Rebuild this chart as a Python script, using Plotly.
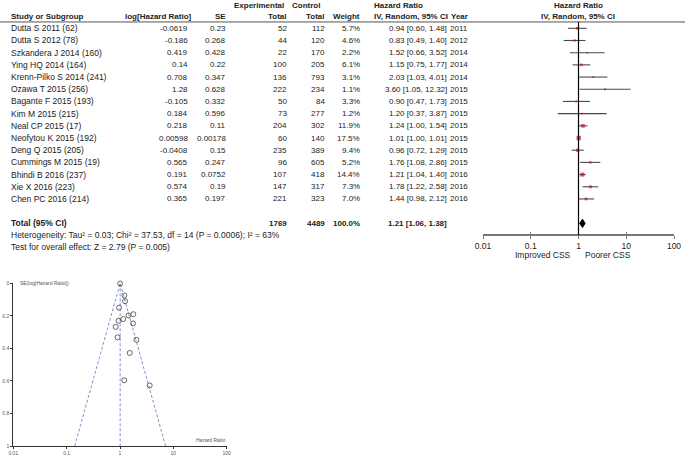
# Forest plot + funnel plot (CSS hazard ratios)

import math
import plotly.graph_objects as go

# ---- data ----
studies = ['Dutta S 2011 (62)', 'Dutta S 2012 (78)', 'Szkandera J 2014 (160)', 'Ying HQ 2014 (164)',
           'Krenn-Pilko S 2014 (241)', 'Ozawa T 2015 (256)', 'Bagante F 2015 (193)', 'Kim M 2015 (215)',
           'Neal CP 2015 (17)', 'Neofytou K 2015 (192)', 'Deng Q 2015 (205)', 'Cummings M 2015 (19)',
           'Bhindi B 2016 (237)', 'Xie X 2016 (223)', 'Chen PC 2016 (214)']
log_hr = ['-0.0619', '-0.186', '0.419', '0.14', '0.708', '1.28', '-0.105', '0.184',
          '0.218', '0.00598', '-0.0408', '0.565', '0.191', '0.574', '0.365']
se = ['0.23', '0.268', '0.428', '0.22', '0.347', '0.628', '0.332', '0.596',
      '0.11', '0.00178', '0.15', '0.247', '0.0752', '0.19', '0.197']
exp_total = [52, 44, 22, 100, 136, 222, 50, 73, 204, 60, 235, 96, 107, 147, 221]
ctrl_total = [112, 120, 170, 205, 793, 234, 84, 277, 302, 140, 389, 605, 418, 317, 323]
weight = [5.7, 4.6, 2.2, 6.1, 3.1, 1.1, 3.3, 1.2, 11.9, 17.5, 9.4, 5.2, 14.4, 7.3, 7.0]
hr = [0.94, 0.83, 1.52, 1.15, 2.03, 3.60, 0.90, 1.20, 1.24, 1.01, 0.96, 1.76, 1.21, 1.78, 1.44]
hr_lo = [0.60, 0.49, 0.66, 0.75, 1.03, 1.05, 0.47, 0.37, 1.00, 1.00, 0.72, 1.08, 1.04, 1.22, 0.98]
hr_hi = [1.48, 1.40, 3.52, 1.77, 4.01, 12.32, 1.73, 3.87, 1.54, 1.01, 1.29, 2.86, 1.40, 2.58, 2.12]
years = [2011, 2012, 2014, 2014, 2014, 2015, 2015, 2015, 2015, 2015, 2015, 2015, 2016, 2016, 2016]

total_exp, total_ctrl = 1769, 4489
pooled_hr, pooled_lo, pooled_hi = 1.21, 1.06, 1.38
heterogeneity = 'Heterogeneity: Tau² = 0.03; Chi² = 37.53, df = 14 (P = 0.0006); I² = 63%'
overall = 'Test for overall effect: Z = 2.79 (P = 0.005)'

W, H = 685, 457
FONT = 'Liberation Sans, Arial, sans-serif'
TXT = '#222222'
RED = '#c8102e'
FS = 8       # numeric columns
LS = 8.5     # labels / footnotes
HS = 8       # header font size

# row geometry (in pixels) -> y axis in row units
ROW0, PITCH = 28.3, 12.19
total_row = len(studies) + 1


def px(x):
    return x / W


annotations = []


def txt(x, y, s, anchor='left', bold=False, size=FS, yref='y'):
    annotations.append(dict(
        x=px(x), y=y, xref='paper', yref=yref, text=f'<b>{s}</b>' if bold else s,
        xanchor=anchor, yanchor='middle', showarrow=False,
        font=dict(family=FONT, size=size, color=TXT)))


rows = list(range(len(studies)))

# headers (paper coordinates from pixel)
h1 = 1 - 5.5 / H
h2 = 1 - 16.5 / H
txt(286, h1, 'Experimental', 'right', True, HS, 'paper')
txt(290, h1, 'Control', 'left', True, HS, 'paper')
txt(398, h1, 'Hazard Ratio', 'center', True, HS, 'paper')
txt(578, h1, 'Hazard Ratio', 'center', True, HS, 'paper')
txt(9, h2, 'Study or Subgroup', 'left', True, HS, 'paper')
txt(194, h2, 'log[Hazard Ratio]', 'right', True, HS, 'paper')
txt(228, h2, 'SE', 'right', True, HS, 'paper')
txt(289, h2, 'Total', 'right', True, HS, 'paper')
txt(327, h2, 'Total', 'right', True, HS, 'paper')
txt(362, h2, 'Weight', 'right', True, HS, 'paper')
txt(450, h2, 'IV, Random, 95% CI', 'right', True, HS, 'paper')
txt(470, h2, 'Year', 'right', True, HS, 'paper')
txt(578, h2, 'IV, Random, 95% CI', 'center', True, HS, 'paper')

for i in rows:
    txt(9, i, studies[i], size=LS)
    txt(190, i, log_hr[i], 'right')
    txt(228, i, se[i], 'right')
    txt(289, i, str(exp_total[i]), 'right')
    txt(327, i, str(ctrl_total[i]), 'right')
    txt(362, i, f'{weight[i]:.1f}%', 'right')
    txt(449, i, f'{hr[i]:.2f} [{hr_lo[i]:.2f}, {hr_hi[i]:.2f}]', 'right')
    txt(470, i, str(years[i]), 'right')

txt(9, total_row, 'Total (95% CI)', bold=True, size=LS)
txt(289, total_row, str(total_exp), 'right', True)
txt(327, total_row, str(total_ctrl), 'right', True)
txt(362, total_row, '100.0%', 'right', True)
txt(449, total_row, f'{pooled_hr:.2f} [{pooled_lo:.2f}, {pooled_hi:.2f}]', 'right', True)
txt(9, total_row + 0.98, heterogeneity, size=LS)
txt(9, total_row + 1.96, overall, size=LS)
txt(573, total_row + 2.6, 'Improved CSS', 'right', size=LS)
txt(583, total_row + 2.6, 'Poorer CSS', 'left', size=LS)

fig = go.Figure()

# CI whiskers
ci_x, ci_y = [], []
for i in rows:
    ci_x += [hr_lo[i], hr_hi[i], None]
    ci_y += [i, i, None]
fig.add_trace(go.Scatter(x=ci_x, y=ci_y, mode='lines', line=dict(color='#4a4a4a', width=1.1),
                         hoverinfo='skip', showlegend=False, xaxis='x', yaxis='y'))
# weight squares
fig.add_trace(go.Scatter(x=hr, y=rows, mode='markers', hoverinfo='skip', showlegend=False,
                         marker=dict(symbol='square', color=RED,
                                     size=[max(1.8, math.sqrt(w) * 1.05) for w in weight],
                                     line=dict(width=0)),
                         xaxis='x', yaxis='y'))
# pooled diamond
dh = 0.34
fig.add_trace(go.Scatter(x=[pooled_lo, pooled_hr, pooled_hi, pooled_hr, pooled_lo],
                         y=[total_row, total_row - dh, total_row, total_row + dh, total_row],
                         mode='lines', fill='toself', fillcolor='black', line=dict(color='black', width=1),
                         hoverinfo='skip', showlegend=False, xaxis='x', yaxis='y'))

# funnel plot
se_num = [float(s) for s in se]
lhr = [float(v) for v in log_hr]
wts = [1 / s ** 2 for s in se_num]
fixed = math.exp(sum(w * l for w, l in zip(wts, lhr)) / sum(wts))
FUNNEL_LINE = dict(color='#7584c8', width=0.9, dash='3px,2px')
fig.add_trace(go.Scatter(
    x=[fixed * math.exp(-1.96), fixed, fixed * math.exp(1.96)], y=[1, 0, 1], mode='lines',
    line=FUNNEL_LINE, hoverinfo='skip', showlegend=False, xaxis='x2', yaxis='y2'))
fig.add_trace(go.Scatter(
    x=[fixed, fixed], y=[0, 1], mode='lines',
    line=FUNNEL_LINE, hoverinfo='skip', showlegend=False, xaxis='x2', yaxis='y2'))
fig.add_trace(go.Scatter(
    x=[math.exp(v) for v in lhr], y=se_num, mode='markers', hoverinfo='skip', showlegend=False,
    marker=dict(symbol='circle-open', size=5, color='#444444', line=dict(width=0.8)),
    xaxis='x2', yaxis='y2', cliponaxis=False))

annotations.append(dict(x=0.02, y=1, xref='x2 domain', yref='y2 domain', text='SE(log[Hazard Ratio])',
                        xanchor='left', yanchor='middle', showarrow=False,
                        font=dict(family=FONT, size=5, color='#555555')))
annotations.append(dict(x=1, y=0, xref='x2 domain', yref='y2 domain', text='Hazard Ratio',
                        xanchor='right', yanchor='bottom', showarrow=False, yshift=1,
                        font=dict(family=FONT, size=5, color='#555555')))

# header rule and vertical line of no effect
shapes = [
    dict(type='line', xref='paper', yref='y', x0=0, x1=1, y0=-0.52, y1=-0.52,
         line=dict(color='#555555', width=1)),
    dict(type='line', xref='x', yref='y', x0=1, x1=1, y0=-0.52, y1=total_row + 0.95,
         line=dict(color='black', width=1.2)),
]

dec = [0.01, 0.1, 1, 10, 100]
dec_txt = ['0.01', '0.1', '1', '10', '100']
axis_pos = 1 - (ROW0 + PITCH * (total_row + 0.95)) / H

fig.update_layout(
    width=W, height=H, margin=dict(l=0, r=0, t=0, b=0, autoexpand=False),
    plot_bgcolor='white', paper_bgcolor='white',
    annotations=annotations, shapes=shapes,
    xaxis=dict(type='log', range=[-2, 2], domain=[px(483), px(674)], anchor='free',
               position=axis_pos,
               tickvals=dec, ticktext=dec_txt, ticks='outside', ticklen=3, tickwidth=1.2,
               tickcolor='#777777', showline=True, linecolor='#777777', linewidth=1.5,
               showgrid=False, zeroline=False,
               tickfont=dict(family=FONT, size=LS, color=TXT)),
    xaxis3=dict(type='log', range=[-2, 2], domain=[px(483), px(674)], anchor='free',
                overlaying='x', position=axis_pos,
                tickvals=dec, ticks='inside', ticklen=3, tickwidth=1.2, tickcolor='#777777',
                showticklabels=False, showgrid=False, zeroline=False, showline=False),
    yaxis=dict(domain=[0, 1], range=[(H - ROW0) / PITCH, -ROW0 / PITCH], visible=False,
               showgrid=False, zeroline=False),
    xaxis2=dict(type='log', range=[-2, 2], domain=[px(13.3), px(226.7)], anchor='y2',
                tickvals=dec, ticktext=dec_txt, ticks='outside', ticklen=2, tickwidth=0.8,
                tickcolor='#333333', showline=True, linecolor='#333333', linewidth=1,
                showgrid=False, zeroline=False,
                tickfont=dict(family=FONT, size=5, color='#555555')),
    yaxis2=dict(range=[1, 0], domain=[1 - 446 / H, 1 - 283.3 / H], anchor='x2',
                tickvals=[0, 0.2, 0.4, 0.6, 0.8, 1], ticktext=['0', '0.2', '0.4', '0.6', '0.8', '1'],
                ticks='outside', ticklen=2, tickwidth=0.8, tickcolor='#333333',
                showline=True, linecolor='#333333', linewidth=1, showgrid=False, zeroline=False,
                tickfont=dict(family=FONT, size=5, color='#555555')),
)
# invisible trace so xaxis3 (crossing tick marks) is drawn
fig.add_trace(go.Scatter(x=[1], y=[0], mode='markers', marker=dict(opacity=0), hoverinfo='skip',
                         showlegend=False, xaxis='x3', yaxis='y'))

# page body has an 8px default margin; remove it so the figure sits at the window origin
fig.write_html('out.html', config={'displayModeBar': False},
               post_script="document.body.style.margin='0';")
